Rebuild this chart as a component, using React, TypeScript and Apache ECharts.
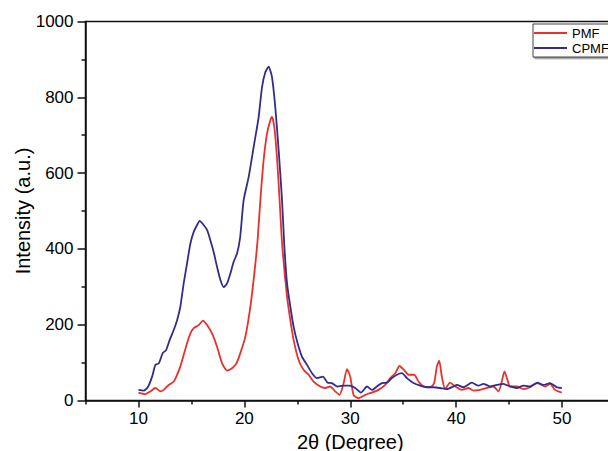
import React, { useEffect, useRef } from "react";
import * as echarts from "echarts";

const pmfX = [10.0, 10.66, 11.13, 11.6, 12.08, 12.39, 12.86, 13.33, 13.65, 13.96, 14.27, 14.59, 14.91, 15.22, 15.69, 16.1, 16.48, 16.95, 17.42, 17.9, 18.37, 18.84, 19.25, 19.62, 20.09, 20.57, 20.94, 21.25, 21.51, 21.82, 22.14, 22.45, 22.61, 22.83, 23.08, 23.33, 23.56, 24.03, 24.34, 24.65, 25.12, 25.59, 26.07, 26.54, 27.17, 27.64, 28.11, 28.58, 28.99, 29.37, 29.69, 30.0, 30.31, 30.78, 31.42, 32.05, 32.67, 33.3, 33.77, 34.25, 34.65, 35.06, 35.5, 36.04, 36.44, 36.92, 37.55, 37.92, 38.18, 38.4, 38.65, 38.96, 39.43, 39.91, 40.54, 41.16, 41.63, 42.26, 42.9, 43.52, 44.0, 44.31, 44.56, 44.84, 45.09, 45.73, 46.35, 46.98, 47.67, 48.4, 48.87, 49.34, 49.97];
const pmfY = [21, 17, 24, 33, 24, 28, 41, 50, 68, 90, 120, 151, 177, 191, 199, 211, 199, 177, 142, 98, 79, 85, 98, 125, 168, 248, 335, 423, 528, 634, 704, 739, 748, 721, 642, 528, 415, 274, 212, 160, 107, 81, 68, 50, 37, 33, 37, 24, 15, 45, 83, 63, 15, 6, 15, 21, 28, 41, 59, 72, 91, 81, 68, 68, 50, 37, 35, 46, 90, 105, 63, 30, 47, 37, 28, 33, 26, 28, 33, 37, 24, 50, 77, 55, 37, 37, 30, 35, 46, 37, 44, 28, 21];

const cpmfX = [10.0, 10.5, 10.88, 11.29, 11.6, 11.92, 12.29, 12.61, 12.95, 13.33, 13.65, 13.96, 14.27, 14.59, 14.91, 15.22, 15.54, 15.78, 16.1, 16.48, 16.79, 17.1, 17.42, 17.74, 18.05, 18.37, 18.68, 18.99, 19.31, 19.6, 19.93, 20.41, 20.88, 21.35, 21.67, 21.98, 22.29, 22.61, 22.92, 23.24, 23.56, 23.77, 24.03, 24.34, 24.65, 25.03, 25.44, 25.92, 26.39, 26.86, 27.42, 27.86, 28.27, 28.75, 29.37, 29.93, 30.47, 31.01, 31.58, 32.05, 32.52, 32.99, 33.46, 33.93, 34.41, 34.88, 35.35, 35.97, 36.6, 37.24, 37.86, 38.49, 39.12, 39.75, 40.07, 40.69, 41.48, 42.1, 42.58, 43.21, 43.84, 44.46, 45.09, 45.73, 46.35, 46.98, 47.67, 48.24, 48.87, 49.5, 49.97];
const cpmfY = [28, 26, 35, 63, 94, 98, 125, 133, 160, 186, 212, 248, 309, 362, 415, 445, 463, 474, 465, 450, 423, 392, 353, 318, 299, 309, 335, 366, 388, 430, 528, 590, 669, 748, 827, 866, 881, 853, 774, 660, 528, 410, 309, 248, 195, 151, 116, 94, 72, 59, 63, 47, 46, 37, 39, 39, 33, 21, 37, 28, 37, 46, 47, 59, 68, 72, 59, 46, 39, 35, 35, 33, 30, 37, 41, 35, 47, 39, 44, 37, 41, 44, 37, 33, 39, 37, 47, 41, 46, 35, 33];

const xMajorTicks = [10, 20, 30, 40, 50];
const xMinorTicks = [5, 15, 25, 35, 45, 55];

const FONT = 'Arial, "Liberation Sans", sans-serif';

function zip(xs: number[], ys: number[]) {
  return xs.map((x, i) => [x, ys[i]]);
}

export default function App() {
  const ref = useRef<HTMLDivElement>(null);
  useEffect(() => {
    if (!ref.current) return;
    const chart = echarts.init(ref.current, null, { renderer: "svg" });
    chart.setOption({
      animation: false,
      backgroundColor: "#fff",
      grid: {
        left: 85.5, right: -7, top: 21.5, bottom: 50.5,
        containLabel: false, outerBoundsMode: "none",
        show: true, borderColor: "#111", borderWidth: 1.5,
      },
      legend: {
        orient: "vertical",
        left: 533,
        top: 24,
        padding: [2, 14, 2, 1],
        itemGap: 1,
        itemWidth: 33,
        itemHeight: 2,
        icon: "rect",
        backgroundColor: "#fff",
        borderColor: "#444",
        borderWidth: 1,
        shadowColor: "rgba(0,0,0,0.45)",
        shadowOffsetX: 1.5,
        shadowOffsetY: 1.5,
        shadowBlur: 0,
        textStyle: { fontFamily: FONT, fontSize: 13, color: "#000", lineHeight: 14 },
        data: ["PMF", "CPMF"],
      },
      xAxis: [
        {
          type: "value",
          min: 5,
          max: 55,
          position: "bottom",
          splitLine: { show: false },
          axisLine: { show: true, onZero: false, lineStyle: { color: "#111", width: 1.5 } },
          axisTick: { show: true, customValues: xMajorTicks, length: 7, lineStyle: { color: "#111", width: 1.5 } },
          axisLabel: { show: true, customValues: xMajorTicks, fontFamily: FONT, fontSize: 17, color: "#000", margin: 9 },
          name: "2θ (Degree)",
          nameLocation: "middle",
          nameGap: 31,
          nameTextStyle: { fontFamily: FONT, fontSize: 20, color: "#000" },
        },
        {
          type: "value",
          min: 5,
          max: 55,
          position: "bottom",
          gridIndex: 0,
          splitLine: { show: false },
          axisLine: { show: false },
          axisTick: { show: true, customValues: xMinorTicks, length: 4, lineStyle: { color: "#111", width: 1.5 } },
          axisLabel: { show: false },
        },
      ],
      yAxis: {
        type: "value",
        min: 0,
        max: 1000,
        interval: 200,
        splitLine: { show: false },
        axisLine: { show: true, lineStyle: { color: "#111", width: 1.5 } },
        axisTick: { show: true, length: 8, lineStyle: { color: "#111", width: 1.5 } },
        minorTick: { show: true, splitNumber: 2, length: 4, lineStyle: { color: "#111", width: 1.5 } },
        axisLabel: { fontFamily: FONT, fontSize: 17, color: "#000", margin: 12, formatter: (v: number) => String(v) },
        name: "Intensity (a.u.)",
        nameLocation: "middle",
        nameGap: 53,
        nameMoveOverlap: false,
        nameTextStyle: { fontFamily: FONT, fontSize: 20, color: "#000" },
      },
      series: [
        {
          name: "PMF",
          type: "line",
          xAxisIndex: 0,
          showSymbol: false,
          symbol: "none",
          smooth: 0.2,
          color: "#e8312c",
          lineStyle: { width: 1.8, color: "#e8312c" },
          data: zip(pmfX, pmfY),
        },
        {
          name: "CPMF",
          type: "line",
          xAxisIndex: 0,
          showSymbol: false,
          symbol: "none",
          smooth: 0.2,
          color: "#322c8c",
          lineStyle: { width: 1.8, color: "#322c8c" },
          data: zip(cpmfX, cpmfY),
        },
      ],
    });
    return () => chart.dispose();
  }, []);
  return <div ref={ref} style={{ position: "fixed", left: 0, top: 0, width: 608, height: 451 }} />;
}
